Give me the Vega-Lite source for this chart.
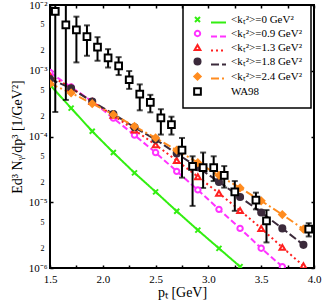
{
  "$schema": "https://vega.github.io/schema/vega-lite/v6.json",
  "width": 264,
  "height": 263,
  "autosize": {"type": "none"},
  "padding": {"left": 50, "top": 5, "right": 8, "bottom": 36},
  "config": {
    "font": "Liberation Serif",
    "view": {"stroke": "black", "strokeWidth": 2},
    "axis": {"grid": false, "domain": false, "labelFont": "Liberation Serif", "titleFont": "Liberation Serif", "labelColor": "black", "titleColor": "black", "titleFontWeight": "normal", "tickColor": "black", "tickWidth": 1.5, "labelOverlap": false, "labelFlush": false},
    "legend": {"strokeWidth": 1.5}
  },
  "datasets": {
    "models": [
      {"series": "<kₜ²>=0 GeV²", "pt": 1.5, "v": 6.1e-4},
      {"series": "<kₜ²>=0 GeV²", "pt": 1.7, "v": 2.7e-4},
      {"series": "<kₜ²>=0 GeV²", "pt": 1.9, "v": 1.2e-4},
      {"series": "<kₜ²>=0 GeV²", "pt": 2.1, "v": 5.7e-5},
      {"series": "<kₜ²>=0 GeV²", "pt": 2.3, "v": 2.8e-5},
      {"series": "<kₜ²>=0 GeV²", "pt": 2.5, "v": 1.44e-5},
      {"series": "<kₜ²>=0 GeV²", "pt": 2.7, "v": 7.3e-6},
      {"series": "<kₜ²>=0 GeV²", "pt": 2.9, "v": 3.77e-6},
      {"series": "<kₜ²>=0 GeV²", "pt": 3.1, "v": 1.99e-6},
      {"series": "<kₜ²>=0 GeV²", "pt": 3.3, "v": 1.05e-6},
      {"series": "<kₜ²>=0.9 GeV²", "pt": 1.5, "v": 9.4e-4},
      {"series": "<kₜ²>=0.9 GeV²", "pt": 1.7, "v": 5.65e-4},
      {"series": "<kₜ²>=0.9 GeV²", "pt": 1.9, "v": 3.4e-4},
      {"series": "<kₜ²>=0.9 GeV²", "pt": 2.1, "v": 1.9e-4},
      {"series": "<kₜ²>=0.9 GeV²", "pt": 2.3, "v": 1.05e-4},
      {"series": "<kₜ²>=0.9 GeV²", "pt": 2.5, "v": 5.7e-5},
      {"series": "<kₜ²>=0.9 GeV²", "pt": 2.7, "v": 2.95e-5},
      {"series": "<kₜ²>=0.9 GeV²", "pt": 2.9, "v": 1.54e-5},
      {"series": "<kₜ²>=0.9 GeV²", "pt": 3.1, "v": 7.8e-6},
      {"series": "<kₜ²>=0.9 GeV²", "pt": 3.3, "v": 4.0e-6},
      {"series": "<kₜ²>=0.9 GeV²", "pt": 3.5, "v": 2.0e-6},
      {"series": "<kₜ²>=0.9 GeV²", "pt": 3.7, "v": 1.05e-6},
      {"series": "<kₜ²>=1.3 GeV²", "pt": 1.5, "v": 8.4e-4},
      {"series": "<kₜ²>=1.3 GeV²", "pt": 1.7, "v": 5.5e-4},
      {"series": "<kₜ²>=1.3 GeV²", "pt": 1.9, "v": 3.4e-4},
      {"series": "<kₜ²>=1.3 GeV²", "pt": 2.1, "v": 2.1e-4},
      {"series": "<kₜ²>=1.3 GeV²", "pt": 2.3, "v": 1.25e-4},
      {"series": "<kₜ²>=1.3 GeV²", "pt": 2.5, "v": 7.5e-5},
      {"series": "<kₜ²>=1.3 GeV²", "pt": 2.7, "v": 4.3e-5},
      {"series": "<kₜ²>=1.3 GeV²", "pt": 2.9, "v": 2.45e-5},
      {"series": "<kₜ²>=1.3 GeV²", "pt": 3.1, "v": 1.37e-5},
      {"series": "<kₜ²>=1.3 GeV²", "pt": 3.3, "v": 7.5e-6},
      {"series": "<kₜ²>=1.3 GeV²", "pt": 3.5, "v": 4.0e-6},
      {"series": "<kₜ²>=1.3 GeV²", "pt": 3.7, "v": 2.06e-6},
      {"series": "<kₜ²>=1.3 GeV²", "pt": 3.9, "v": 1.08e-6},
      {"series": "<kₜ²>=1.8 GeV²", "pt": 1.5, "v": 7.5e-4},
      {"series": "<kₜ²>=1.8 GeV²", "pt": 1.7, "v": 5.4e-4},
      {"series": "<kₜ²>=1.8 GeV²", "pt": 1.9, "v": 3.4e-4},
      {"series": "<kₜ²>=1.8 GeV²", "pt": 2.1, "v": 2.2e-4},
      {"series": "<kₜ²>=1.8 GeV²", "pt": 2.3, "v": 1.38e-4},
      {"series": "<kₜ²>=1.8 GeV²", "pt": 2.5, "v": 9.0e-5},
      {"series": "<kₜ²>=1.8 GeV²", "pt": 2.7, "v": 5.5e-5},
      {"series": "<kₜ²>=1.8 GeV²", "pt": 2.9, "v": 3.4e-5},
      {"series": "<kₜ²>=1.8 GeV²", "pt": 3.1, "v": 2.04e-5},
      {"series": "<kₜ²>=1.8 GeV²", "pt": 3.3, "v": 1.2e-5},
      {"series": "<kₜ²>=1.8 GeV²", "pt": 3.5, "v": 7.0e-6},
      {"series": "<kₜ²>=1.8 GeV²", "pt": 3.7, "v": 4.0e-6},
      {"series": "<kₜ²>=1.8 GeV²", "pt": 3.9, "v": 2.25e-6},
      {"series": "<kₜ²>=2.4 GeV²", "pt": 1.5, "v": 6.35e-4},
      {"series": "<kₜ²>=2.4 GeV²", "pt": 1.7, "v": 4.6e-4},
      {"series": "<kₜ²>=2.4 GeV²", "pt": 1.9, "v": 3.16e-4},
      {"series": "<kₜ²>=2.4 GeV²", "pt": 2.1, "v": 2.15e-4},
      {"series": "<kₜ²>=2.4 GeV²", "pt": 2.3, "v": 1.43e-4},
      {"series": "<kₜ²>=2.4 GeV²", "pt": 2.5, "v": 9.5e-5},
      {"series": "<kₜ²>=2.4 GeV²", "pt": 2.7, "v": 6.2e-5},
      {"series": "<kₜ²>=2.4 GeV²", "pt": 2.9, "v": 4.0e-5},
      {"series": "<kₜ²>=2.4 GeV²", "pt": 3.1, "v": 2.57e-5},
      {"series": "<kₜ²>=2.4 GeV²", "pt": 3.3, "v": 1.65e-5},
      {"series": "<kₜ²>=2.4 GeV²", "pt": 3.5, "v": 1.05e-5},
      {"series": "<kₜ²>=2.4 GeV²", "pt": 3.7, "v": 6.5e-6},
      {"series": "<kₜ²>=2.4 GeV²", "pt": 3.9, "v": 3.9e-6}
    ],
    "wa98": [
      {"series": "WA98", "pt": 1.55, "v": 8.0e-3, "lo": 2.36e-4, "hi": 1.5e-2},
      {"series": "WA98", "pt": 1.65, "v": 5.0e-3, "lo": 3.6e-4, "hi": 1.0e-2},
      {"series": "WA98", "pt": 1.75, "v": 4.2e-3, "lo": 1.34e-3, "hi": 6.65e-3},
      {"series": "WA98", "pt": 1.85, "v": 3.3e-3, "lo": 1.69e-3, "hi": 4.9e-3},
      {"series": "WA98", "pt": 1.95, "v": 2.29e-3, "lo": 1.42e-3, "hi": 3.24e-3},
      {"series": "WA98", "pt": 2.05, "v": 1.57e-3, "lo": 1.12e-3, "hi": 2.13e-3},
      {"series": "WA98", "pt": 2.15, "v": 1.19e-3, "lo": 8.6e-4, "hi": 1.61e-3},
      {"series": "WA98", "pt": 2.25, "v": 7.3e-4, "lo": 5.3e-4, "hi": 9.9e-4},
      {"series": "WA98", "pt": 2.35, "v": 4.4e-4, "lo": 2.5e-4, "hi": 6.2e-4},
      {"series": "WA98", "pt": 2.45, "v": 3.3e-4, "lo": 2.33e-4, "hi": 4.3e-4},
      {"series": "WA98", "pt": 2.55, "v": 1.92e-4, "lo": 1.07e-4, "hi": 2.6e-4},
      {"series": "WA98", "pt": 2.65, "v": 1.52e-4, "lo": 1.07e-4, "hi": 2.0e-4},
      {"series": "WA98", "pt": 2.75, "v": 6.2e-5, "lo": 2.37e-5, "hi": 9.5e-5},
      {"series": "WA98", "pt": 2.85, "v": 3.5e-5, "lo": 8.8e-6, "hi": 5.0e-5},
      {"series": "WA98", "pt": 2.95, "v": 3.35e-5, "lo": 1.65e-5, "hi": 5.7e-5},
      {"series": "WA98", "pt": 3.05, "v": 3.35e-5, "lo": 2.1e-5, "hi": 5.0e-5},
      {"series": "WA98", "pt": 3.15, "v": 2.57e-5, "lo": 1.67e-5, "hi": 3.55e-5},
      {"series": "WA98", "pt": 3.25, "v": 1.44e-5, "lo": 7.4e-6, "hi": 2.1e-5},
      {"series": "WA98", "pt": 3.45, "v": 1.08e-5, "lo": 7.8e-6, "hi": 1.4e-5},
      {"series": "WA98", "pt": 3.55, "v": 5.2e-6, "lo": 2.45e-6, "hi": 7.6e-6},
      {"series": "WA98", "pt": 3.95, "v": 3.9e-6, "lo": 3.02e-6, "hi": 4.8e-6}
    ]
  },
  "resolve": {"axis": {"x": "independent", "y": "independent"}},
  "layer": [
    {
      "data": {"name": "models"},
      "mark": {"type": "line", "strokeWidth": 2, "clip": true},
      "encoding": {
        "x": {"field": "pt", "type": "quantitative", "scale": {"domain": [1.5, 4.0], "nice": false, "zero": false},
          "axis": {"values": [1.5, 1.75, 2.0, 2.25, 2.5, 2.75, 3.0, 3.25, 3.5, 3.75, 4.0], "labelExpr": "abs(datum.value*2 - round(datum.value*2)) < 0.01 ? format(datum.value, '.1f') : ''", "tickSize": -3, "labelPadding": 8, "labelFontSize": 11, "title": "pₜ [GeV]", "titleFontSize": 14, "titlePadding": 1}},
        "y": {"field": "v", "type": "quantitative", "scale": {"type": "log", "domain": [1e-6, 1e-2], "nice": false},
          "axis": {"values": [1e-6, 2e-6, 5e-6, 1e-5, 2e-5, 5e-5, 1e-4, 2e-4, 5e-4, 1e-3, 2e-3, 5e-3, 1e-2],
            "labelExpr": "abs(log(datum.value)/LN10 - round(log(datum.value)/LN10)) < 0.01 ? '10' + ['⁻⁶','⁻⁵','⁻⁴','⁻³','⁻²'][round(log(datum.value)/LN10)+6] : format(round(datum.value/pow(10, floor(log(datum.value)/LN10 + 0.001))), 'd')",
            "labelFontSize": {"condition": {"test": "abs(log(datum.value)/LN10 - round(log(datum.value)/LN10)) < 0.01", "value": 11}, "value": 8},
            "tickSize": {"condition": {"test": "abs(log(datum.value)/LN10 - round(log(datum.value)/LN10)) < 0.01", "value": -3}, "value": 0},
            "labelPadding": 6, "title": "Ed³ Nᵧ/dp³ [1/GeV²]", "titleFontSize": 14, "titlePadding": 4}},
        "stroke": {"field": "series", "type": "nominal",
          "scale": {"domain": ["<kₜ²>=0 GeV²", "<kₜ²>=0.9 GeV²", "<kₜ²>=1.3 GeV²", "<kₜ²>=1.8 GeV²", "<kₜ²>=2.4 GeV²"], "range": ["#33ee11", "#ff33ff", "#ff2020", "#3b2a3b", "#ff8c20"]},
          "legend": {"orient": "none", "legendX": 151, "legendY": 0, "padding": 9, "title": null, "labelExpr": "''", "labelFontSize": 11, "symbolSize": 225, "symbolStrokeWidth": 2, "rowPadding": 0}},
        "strokeDash": {"field": "series", "type": "nominal",
          "scale": {"domain": ["<kₜ²>=0 GeV²", "<kₜ²>=0.9 GeV²", "<kₜ²>=1.3 GeV²", "<kₜ²>=1.8 GeV²", "<kₜ²>=2.4 GeV²"], "range": [[1, 0], [6, 3], [2, 3], [8, 3], [8, 3, 2, 3]]}}
      }
    },
    {
      "data": {"name": "wa98"},
      "mark": {"type": "rule", "strokeWidth": 2, "color": "black", "clip": true},
      "encoding": {
        "x": {"field": "pt", "type": "quantitative",
          "axis": {"orient": "top", "values": [1.5, 1.75, 2.0, 2.25, 2.5, 2.75, 3.0, 3.25, 3.5, 3.75, 4.0], "labels": false, "tickSize": -3, "title": null}},
        "y": {"field": "lo", "type": "quantitative",
          "axis": {"orient": "right", "values": [1e-6, 1e-5, 1e-4, 1e-3, 1e-2], "labels": false, "tickSize": -3, "title": null}},
        "y2": {"field": "hi"}
      }
    },
    {
      "data": {"name": "wa98"},
      "mark": {"type": "tick", "orient": "horizontal", "size": 6, "thickness": 2, "color": "black", "clip": true},
      "encoding": {
        "x": {"field": "pt", "type": "quantitative", "axis": null},
        "y": {"field": "lo", "type": "quantitative", "axis": null}
      }
    },
    {
      "data": {"name": "wa98"},
      "mark": {"type": "tick", "orient": "horizontal", "size": 6, "thickness": 2, "color": "black", "clip": true},
      "encoding": {
        "x": {"field": "pt", "type": "quantitative", "axis": null},
        "y": {"field": "hi", "type": "quantitative", "axis": null}
      }
    },
    {
      "data": {"name": "models"},
      "mark": {"type": "point", "filled": false, "strokeWidth": 2, "opacity": 1, "clip": true},
      "encoding": {
        "x": {"field": "pt", "type": "quantitative", "axis": null},
        "y": {"field": "v", "type": "quantitative", "axis": null},
        "color": {"field": "series", "type": "nominal",
          "scale": {"domain": ["<kₜ²>=0 GeV²", "<kₜ²>=0.9 GeV²", "<kₜ²>=1.3 GeV²", "<kₜ²>=1.8 GeV²", "<kₜ²>=2.4 GeV²", "WA98"], "range": ["#33ee11", "#ff33ff", "#ff2020", "#3b2a3b", "#ff8c20", "black"]},
          "legend": {"orient": "none", "legendX": 133, "legendY": 0, "padding": 9, "title": null, "strokeColor": "black", "labelFont": "Liberation Serif", "labelFontSize": 11, "labelColor": "black", "labelOffset": 28, "rowPadding": 0, "symbolStrokeWidth": 2}},
        "fill": {"field": "series", "type": "nominal",
          "scale": {"domain": ["<kₜ²>=0 GeV²", "<kₜ²>=0.9 GeV²", "<kₜ²>=1.3 GeV²", "<kₜ²>=1.8 GeV²", "<kₜ²>=2.4 GeV²", "WA98"], "range": ["#33ee11", "white", "white", "#3b2a3b", "#ff8c20", "white"]}},
        "shape": {"field": "series", "type": "nominal",
          "scale": {"domain": ["<kₜ²>=0 GeV²", "<kₜ²>=0.9 GeV²", "<kₜ²>=1.3 GeV²", "<kₜ²>=1.8 GeV²", "<kₜ²>=2.4 GeV²", "WA98"], "range": ["M-1,-1L1,1M1,-1L-1,1", "circle", "triangle-up", "circle", "diamond", "square"]}},
        "size": {"field": "series", "type": "nominal",
          "scale": {"domain": ["<kₜ²>=0 GeV²", "<kₜ²>=0.9 GeV²", "<kₜ²>=1.3 GeV²", "<kₜ²>=1.8 GeV²", "<kₜ²>=2.4 GeV²", "WA98"], "range": [25, 45, 40, 25, 35, 60]}}
      }
    },
    {
      "data": {"name": "wa98"},
      "mark": {"type": "point", "filled": false, "strokeWidth": 2, "opacity": 1, "clip": true},
      "encoding": {
        "x": {"field": "pt", "type": "quantitative", "axis": null},
        "y": {"field": "v", "type": "quantitative", "axis": null},
        "color": {"field": "series", "type": "nominal"},
        "fill": {"field": "series", "type": "nominal"},
        "shape": {"field": "series", "type": "nominal"},
        "size": {"field": "series", "type": "nominal"}
      }
    }
  ]
}
